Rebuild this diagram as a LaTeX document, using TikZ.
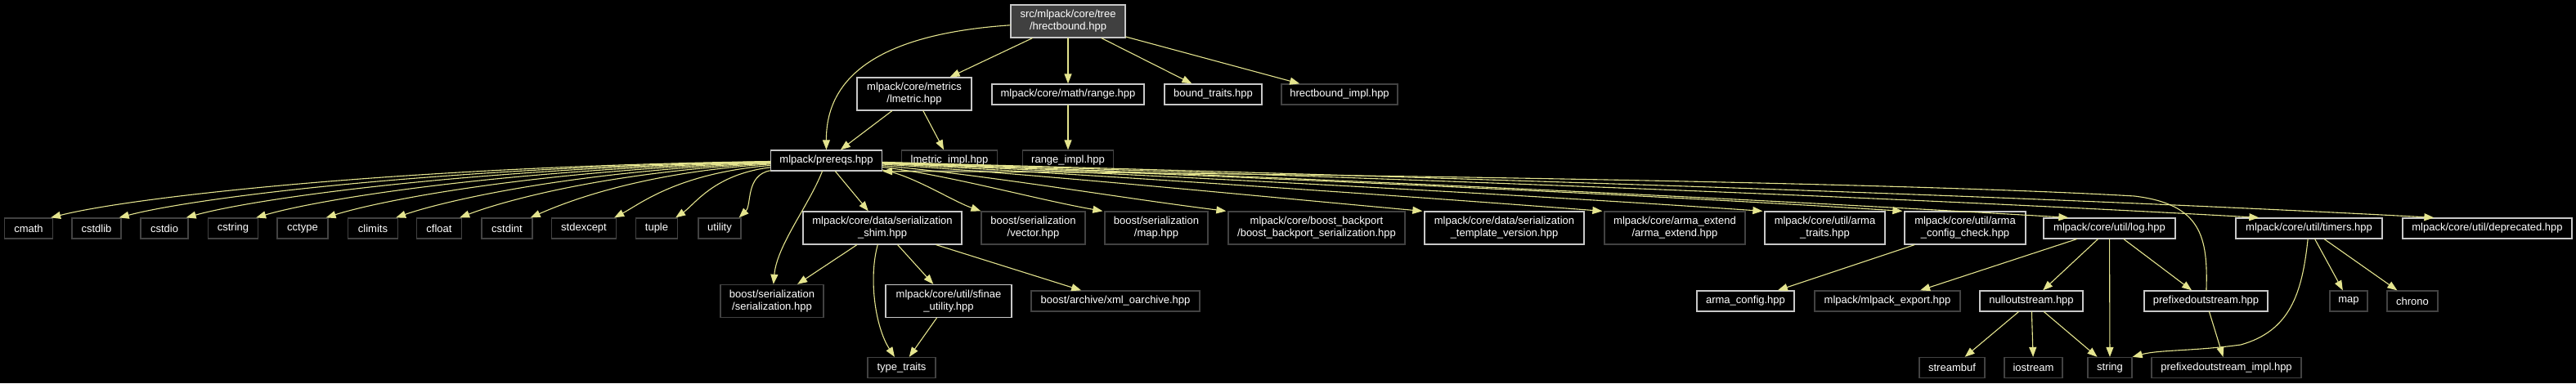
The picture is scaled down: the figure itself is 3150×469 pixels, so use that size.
\documentclass[tikz,border=0pt]{standalone}
\usepackage{fontspec}
\setmainfont{Liberation Sans}
\usetikzlibrary{arrows.meta}
\definecolor{edgeyel}{RGB}{228,228,142}
\definecolor{docline}{RGB}{200,200,200}
\definecolor{extline}{RGB}{66,66,66}
\definecolor{rootfill}{RGB}{64,64,64}

\begin{document}
\begin{tikzpicture}[x=1pt,y=-1pt,line cap=round,
  filebox/.style={draw,line width=1.3pt,text=white,fill=black,inner sep=0pt,align=center,
    minimum height=25pt,font=\fontsize{13}{15}\selectfont},
  docbox/.style={filebox,draw=docline},
  extbox/.style={filebox,draw=extline},
  rootbox/.style={filebox,draw=docline,fill=rootfill},
  tall/.style={minimum height=40pt},
  incl/.style={line width=1.1pt,color=edgeyel,-{Triangle[length=12pt,width=9pt]}}]
  \fill[black] (0,0) rectangle (3150,469);
  \useasboundingbox (0,0) rectangle (3150,469);

  % file of the graph
  \node[rootbox,tall,minimum width=140] (root) at (1306,26) {src/mlpack/core/tree\\/hrectbound.hpp};
  % first level
  \node[docbox,tall,minimum width=140] (lmetric) at (1118,115) {mlpack/core/metrics\\/lmetric.hpp};
  \node[docbox,minimum width=186] (range) at (1306,115.5) {mlpack/core/math/range.hpp};
  \node[docbox,minimum width=119] (boundtraits) at (1483.5,115.5) {bound\_traits.hpp};
  \node[extbox,minimum width=142] (hrectimpl) at (1638,115.5) {hrectbound\_impl.hpp};
  \draw[incl] (root) -- (lmetric);
  \draw[incl] (root) -- (range);
  \draw[incl] (root) -- (boundtraits);
  \draw[incl] (root) -- (hrectimpl);
  % second level
  \node[docbox,minimum width=136] (prereqs) at (1010.5,196.5) {mlpack/prereqs.hpp};
  \node[extbox,minimum width=117] (lmetricimpl) at (1161,196.5) {lmetric\_impl.hpp};
  \node[extbox,minimum width=111] (rangeimpl) at (1306,196.5) {range\_impl.hpp};
  \draw[incl] (root) .. controls (1100,40) and (1010,80) .. (prereqs);
  \draw[incl] (lmetric) -- (prereqs);
  \draw[incl] (lmetric) -- (lmetricimpl);
  \draw[incl] (range) -- (rangeimpl);

  % standard headers
  \foreach \n/\x/\w in {cmath/35/59,cstdlib/118/60,cstdio/201/58,cstring/285/61,cctype/370/62,
      climits/456/61,cfloat/537/55,cstdint/620/62,stdexcept/714/79,tuple/803/51,utility/880/52}{
    \node[extbox,minimum width=\w] (\n) at (\x,279.5) {\n};
    \draw[incl] (prereqs) .. controls ({943-0.5*(943-\x)},{215-0.012*(943-\x)})
      and ({\x+\w/2+7+0.1*(943-\x)},{252-0.012*(943-\x)}) .. ([xshift=-3pt]\n.north east);
  }

  % third level
  \node[docbox,tall,minimum width=194] (shim) at (1079,279) {mlpack/core/data/serialization\\\_shim.hpp};
  \node[extbox,tall,minimum width=127] (vector) at (1263.5,279) {boost/serialization\\/vector.hpp};
  \node[extbox,tall,minimum width=126] (bmap) at (1414,279) {boost/serialization\\/map.hpp};
  \node[extbox,tall,minimum width=216] (backport) at (1610,279) {mlpack/core/boost\_backport\\/boost\_backport\_serialization.hpp};
  \node[docbox,tall,minimum width=195] (templver) at (1839.5,279) {mlpack/core/data/serialization\\\_template\_version.hpp};
  \node[extbox,tall,minimum width=172] (armaextend) at (2048,279) {mlpack/core/arma\_extend\\/arma\_extend.hpp};
  \node[docbox,tall,minimum width=147] (armatraits) at (2231.5,279) {mlpack/core/util/arma\\\_traits.hpp};
  \node[docbox,tall,minimum width=148] (armacheck) at (2403,279) {mlpack/core/util/arma\\\_config\_check.hpp};
  \node[docbox,minimum width=161] (log) at (2579.5,279.5) {mlpack/core/util/log.hpp};
  \node[docbox,minimum width=179] (timers) at (2823.5,279.5) {mlpack/core/util/timers.hpp};
  \node[docbox,minimum width=207] (deprecated) at (3041.5,279.5) {mlpack/core/util/deprecated.hpp};
  \draw[incl] (prereqs) -- (shim);
  \foreach \n/\ex/\ey/\s in {vector/1201/259/0,bmap/1349/259/-2,backport/1500/259/-2,templver/1740/259/-2,
      armaextend/1960/259/-2,armatraits/2156/259/-2,armacheck/2327/259/-2,
      log/2530/267/31,timers/2763/267/29,deprecated/2977/267/39}
    \draw[incl] (prereqs) .. controls ({1078+0.3*(\ex-1078)},214)
      and ({\ex-0.3*(\ex-1078)},{\ey-12-0.01*(\ex-1078)}) .. ([xshift=\s pt]\n.north west);

  % fourth level
  \node[extbox,tall,minimum width=126] (serialization) at (944,368.5) {boost/serialization\\/serialization.hpp};
  \node[docbox,tall,minimum width=154] (sfinae) at (1160,368.5) {mlpack/core/util/sfinae\\\_utility.hpp};
  \node[extbox,minimum width=206] (xml) at (1364,368.5) {boost/archive/xml\_oarchive.hpp};
  \node[docbox,minimum width=119] (armaconfig) at (2134.5,368.5) {arma\_config.hpp};
  \node[extbox,minimum width=178] (mlexport) at (2308,368.5) {mlpack/mlpack\_export.hpp};
  \node[docbox,minimum width=126] (nullout) at (2484,368.5) {nulloutstream.hpp};
  \node[docbox,minimum width=151] (prefixout) at (2697.5,368.5) {prefixedoutstream.hpp};
  \node[extbox,minimum width=46] (tmap) at (2872,368.5) {map};
  \node[extbox,minimum width=62] (chrono) at (2950,368.5) {chrono};
  \draw[incl] (prereqs) .. controls (990,250) and (950,300) .. (serialization);
  \draw[incl] (shim) -- (serialization);
  \draw[incl] (shim) -- (sfinae);
  \draw[incl] (shim) -- (xml);
  \draw[incl] (armacheck) -- (armaconfig);
  \draw[incl] (log) -- (mlexport);
  \draw[incl] (log) -- (nullout);
  \draw[incl] (log) -- (prefixout);
  \draw[incl] (timers) -- (tmap);
  \draw[incl] (timers) -- (chrono);
  \draw[incl] (prefixout) .. controls (2700,290) and (2692,250) .. (2610,240)
    .. controls (2300,222) and (1500,211) .. (prereqs.south east);

  % fifth level
  \node[extbox,minimum width=83] (typetraits) at (1102.5,450) {type\_traits};
  \node[extbox,minimum width=80] (streambuf) at (2387,450) {streambuf};
  \node[extbox,minimum width=71] (iostream) at (2486.5,450) {iostream};
  \node[extbox,minimum width=54] (string) at (2580,450) {string};
  \node[extbox,minimum width=183] (prefiximpl) at (2722.5,450) {prefixedoutstream\_impl.hpp};
  \draw[incl] (shim) .. controls (1062,340) and (1070,400) .. (typetraits);
  \draw[incl] (sfinae) -- (typetraits);
  \draw[incl] (log) -- (string);
  \draw[incl] (nullout) -- (streambuf);
  \draw[incl] (nullout) -- (iostream);
  \draw[incl] (nullout) -- (string);
  \draw[incl] (prefixout) -- (prefiximpl);
  \draw[incl] (timers) .. controls (2815,360) and (2800,405) .. (2740,422)
    .. controls (2680,430) and (2640,428) .. (string.north east);
\end{tikzpicture}
\end{document}
